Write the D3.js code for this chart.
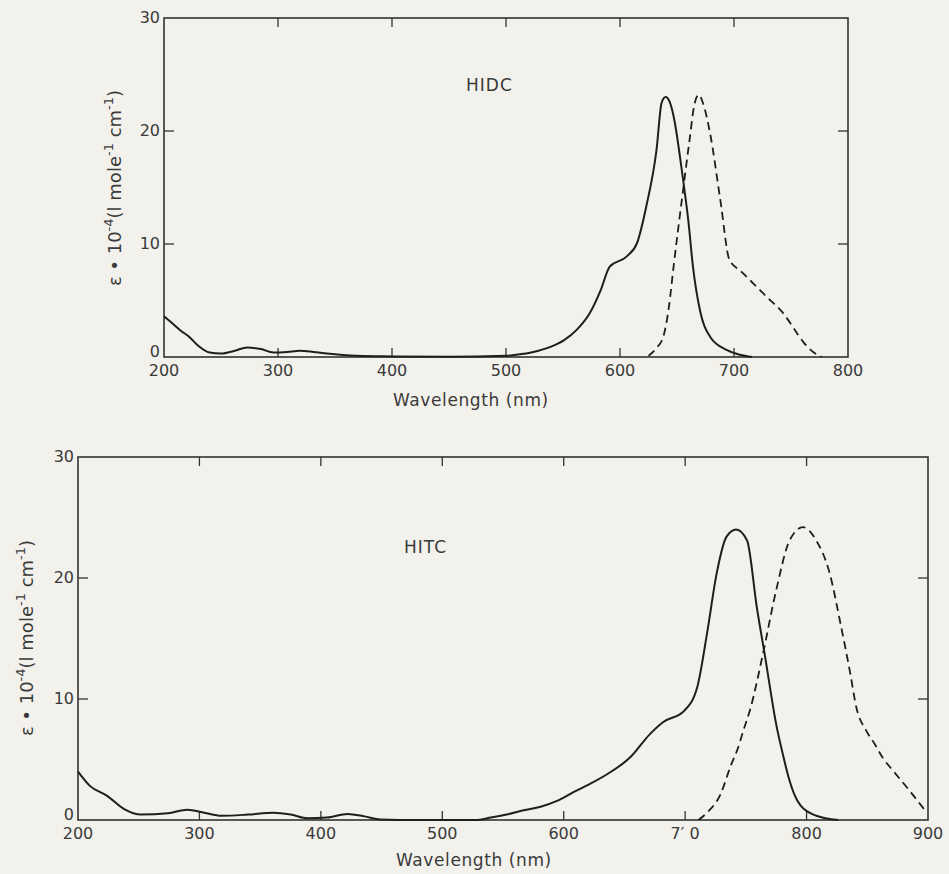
<html>
<head>
    <title>HIDC / HITC spectra</title>
    <script src="https://cdnjs.cloudflare.com/ajax/libs/d3/7.8.5/d3.min.js"></script>
    <style>
        body { margin: 0; background: #f3f1ec; }
        text { font-family: "DejaVu Sans", sans-serif; fill: #3a3a3a; }
    </style>
</head>
<body>
    <svg id="chart" width="949" height="874"></svg>
    <script>
        // HIDC: absorption (solid) and fluorescence (dashed), [wavelength nm, eps*1e-4]
        var hidcAbsorption = [
            [200,3.6],[207,3.0],[215,2.3],[222,1.8],[230,1.0],[240,0.4],[250,0.3],[262,0.55],
            [273,0.85],[285,0.7],[296,0.4],[308,0.45],[319,0.55],[331,0.45],[343,0.3],[369,0.1],
            [400,0.05],[450,0.02],[500,0.1],[509,0.2],[524,0.45],[539,0.9],[551,1.5],[562,2.4],
            [573,3.8],[583,5.9],[591,8.0],[606,8.9],[615,10.1],[623,13.3],[632,18.3],[636.5,22.5],
            [640,23.0],[643.5,22.6],[648,20.8],[652.5,17.8],[656,15.2],[660,12.0],[664,8.0],
            [670,4.2],[679,1.8],[694,0.6],[705,0.2],[716,0.0]
        ];
        var hidcFluorescence = [
            [625,0.1],[632,0.8],[638,1.8],[643,4.5],[647,8.0],[655,14.5],[661,19.2],[665,22.2],
            [669,23.2],[673,22.4],[679,19.8],[688,13.9],[696,8.6],[706,7.6],[717,6.5],[730,5.2],
            [743,3.9],[752,2.6],[761,1.3],[770,0.4],[777,0.0]
        ];
        // HITC
        var hitcAbsorption = [
            [200,4.0],[210,2.8],[224,2.0],[238,0.9],[252,0.45],[274,0.55],[290,0.85],[304,0.6],
            [318,0.35],[340,0.45],[361,0.6],[375,0.45],[389,0.15],[405,0.2],[422,0.5],[436,0.3],
            [449,0.05],[480,0.0],[527,0.0],[540,0.2],[553,0.45],[567,0.8],[581,1.1],[595,1.6],
            [608,2.3],[622,3.0],[636,3.8],[655,5.2],[671,7.1],[682,8.1],[699,9.0],[710,11.0],
            [718,15.4],[726,20.4],[734,23.4],[742,24.0],[751,23.1],[759,17.6],[766,13.4],[775,7.9],
            [781,5.2],[785,3.6],[790,2.1],[795,1.2],[808,0.35],[826,0.0]
        ];
        var hitcFluorescence = [
            [711,0.0],[718,0.6],[729,2.1],[738,4.6],[743,5.8],[748,7.4],[754,9.3],[764,13.7],
            [775,19.0],[786,23.1],[797,24.2],[808,23.1],[819,20.4],[828,16.2],[836,12.1],[841,9.3],
            [849,7.4],[856,6.3],[863,5.1],[871,4.1],[885,2.4],[899,0.6]
        ];

        var hidcXTicks = [200, 300, 400, 500, 600, 700, 800];
        var hitcXTicks = [200, 300, 400, 500, 600, 700, 800, 900];
        var hitcXLabels = ["200", "300", "400", "500", "600", "7\u2032 0", "800", "900"];
        var yTicks = [0, 10, 20, 30];

        var svg = d3.select("#chart");

        function panel(cfg) {
            var x = d3.scaleLinear().domain(cfg.xDomain).range([cfg.left, cfg.right]);
            var y = d3.scaleLinear().domain([0, 30]).range([cfg.bottom, cfg.top]);
            var g = svg.append("g");

            // frame
            g.append("rect")
                .attr("x", cfg.left).attr("y", cfg.top)
                .attr("width", cfg.right - cfg.left).attr("height", cfg.bottom - cfg.top)
                .attr("fill", "none").attr("stroke", "#333").attr("stroke-width", 1.6);

            var inner = cfg.xTicks.slice(1, -1);
            // bottom / top ticks point inward
            g.append("g").selectAll("line.b").data(inner).enter().append("line")
                .attr("x1", d => x(d)).attr("x2", d => x(d))
                .attr("y1", cfg.bottom).attr("y2", cfg.bottom - 9)
                .attr("stroke", "#333").attr("stroke-width", 1.3);
            g.append("g").selectAll("line.t").data(inner).enter().append("line")
                .attr("x1", d => x(d)).attr("x2", d => x(d))
                .attr("y1", cfg.top).attr("y2", cfg.top + 9)
                .attr("stroke", "#333").attr("stroke-width", 1.3);
            // left / right ticks
            g.append("g").selectAll("line.l").data([10, 20]).enter().append("line")
                .attr("x1", cfg.left).attr("x2", cfg.left + 10)
                .attr("y1", d => y(d)).attr("y2", d => y(d))
                .attr("stroke", "#333").attr("stroke-width", 1.3);
            g.append("g").selectAll("line.r").data([10, 20]).enter().append("line")
                .attr("x1", cfg.right).attr("x2", cfg.right - 10)
                .attr("y1", d => y(d)).attr("y2", d => y(d))
                .attr("stroke", "#333").attr("stroke-width", 1.3);

            // tick labels
            g.append("g").selectAll("text").data(cfg.xTicks).enter().append("text")
                .attr("x", d => x(d)).attr("y", cfg.bottom + 19)
                .attr("text-anchor", "middle").attr("font-size", 16)
                .text((d, i) => cfg.xLabels[i]);
            g.append("g").selectAll("text").data(yTicks).enter().append("text")
                .attr("x", cfg.left - 4).attr("y", d => y(d) + 5 - (d === 0 ? 5 : 0))
                .attr("text-anchor", "end").attr("font-size", 16)
                .text(d => d);

            // axis titles
            g.append("text")
                .attr("x", cfg.xTitle[0]).attr("y", cfg.xTitle[1])
                .attr("font-size", 17).attr("letter-spacing", 0.6)
                .text("Wavelength  (nm)");

            var yt = g.append("text")
                .attr("transform", "translate(" + cfg.yTitle[0] + "," + cfg.yTitle[1] + ") rotate(-90)")
                .attr("text-anchor", "middle").attr("font-size", 18);
            yt.append("tspan").text("\u03b5 \u2022 10");
            yt.append("tspan").attr("dy", -8).attr("font-size", 13).text("-4");
            yt.append("tspan").attr("dy", 8).text("(l mole");
            yt.append("tspan").attr("dy", -8).attr("font-size", 13).text("-1");
            yt.append("tspan").attr("dy", 8).text(" cm");
            yt.append("tspan").attr("dy", -8).attr("font-size", 13).text("-1");
            yt.append("tspan").attr("dy", 8).text(")");

            g.append("text")
                .attr("x", cfg.name[0]).attr("y", cfg.name[1])
                .attr("font-size", 17).attr("letter-spacing", 1)
                .text(cfg.name[2]);

            var line = d3.line()
                .x(d => x(d[0])).y(d => y(d[1]))
                .curve(d3.curveMonotoneX);

            g.append("path").datum(cfg.solid)
                .attr("d", line).attr("fill", "none")
                .attr("stroke", "#1e1e1e").attr("stroke-width", 2);
            g.append("path").datum(cfg.dashed)
                .attr("d", line).attr("fill", "none")
                .attr("stroke", "#1e1e1e").attr("stroke-width", 1.8)
                .attr("stroke-dasharray", "8,5");
        }

        panel({
            left: 164, right: 848, top: 18, bottom: 357,
            xDomain: [200, 800], xTicks: hidcXTicks,
            xLabels: hidcXTicks.map(String),
            solid: hidcAbsorption, dashed: hidcFluorescence,
            xTitle: [393, 406], yTitle: [121, 188],
            name: [466, 91, "HIDC"]
        });

        panel({
            left: 78, right: 928, top: 457, bottom: 820,
            xDomain: [200, 900], xTicks: hitcXTicks,
            xLabels: hitcXLabels,
            solid: hitcAbsorption, dashed: hitcFluorescence,
            xTitle: [396, 866], yTitle: [33, 638],
            name: [404, 553, "HITC"]
        });
    </script>
</body>
</html>
